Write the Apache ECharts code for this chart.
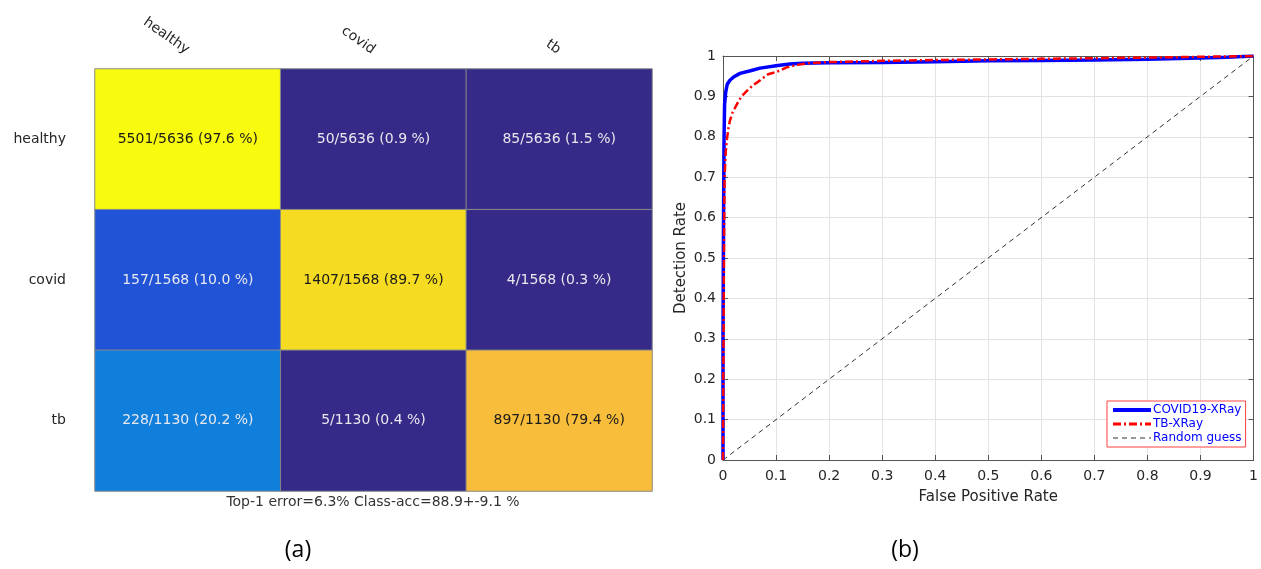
<!DOCTYPE html>
<html>
<head>
<meta charset="utf-8">
<script src="https://cdn.jsdelivr.net/npm/echarts@6/dist/echarts.min.js"></script>
<style>
html,body{margin:0;padding:0;background:#fff;}
#c{width:1261px;height:569px;}
</style>
</head>
<body>
<div id="c"></div>
<script>
// ---- Confusion matrix data (a) ----
const classes = ['healthy', 'covid', 'tb'];
const countsHealthy = [5501, 50, 85];
const countsCovid = [157, 1407, 4];
const countsTb = [228, 5, 897];
const summaryText = 'Top-1 error=6.3% Class-acc=88.9+-9.1 %';

// ---- ROC data (b) ----
const covidFpr = [0, 0, 0.001, 0.002, 0.003, 0.005, 0.008, 0.013, 0.02, 0.032, 0.05, 0.07, 0.1, 0.126, 0.15, 0.2, 0.3, 0.4, 0.5, 0.6, 0.7, 0.8, 0.9, 0.95, 1];
const covidTpr = [0, 0.3, 0.6, 0.8, 0.88, 0.91, 0.93, 0.94, 0.948, 0.957, 0.963, 0.97, 0.976, 0.98, 0.982, 0.983, 0.984, 0.986, 0.988, 0.989, 0.99, 0.992, 0.995, 0.997, 1];
const tbFpr = [0, 0.001, 0.002, 0.003, 0.005, 0.007, 0.01, 0.013, 0.018, 0.022, 0.03, 0.035, 0.047, 0.056, 0.066, 0.075, 0.085, 0.1, 0.12, 0.14, 0.16, 0.2, 0.3, 0.4, 0.6, 0.8, 1];
const tbTpr = [0, 0.3, 0.55, 0.7, 0.76, 0.79, 0.82, 0.84, 0.86, 0.87, 0.89, 0.9, 0.916, 0.927, 0.936, 0.945, 0.955, 0.96, 0.972, 0.978, 0.982, 0.985, 0.988, 0.99, 0.993, 0.996, 1];
const randomFpr = [0, 1];
const randomTpr = [0, 1];
const seriesNames = ['COVID19-XRay', 'TB-XRay', 'Random guess'];

// ---- build ----
const rows = [countsHealthy, countsCovid, countsTb];
const heatData = [];
rows.forEach((r, ri) => {
  const total = r.reduce((a, b) => a + b, 0);
  r.forEach((v, ci) => {
    const pct = v / total * 100;
    heatData.push({
      value: [ci, ri, pct, v, total],
      label: { color: pct > 50 ? '#1a1a1a' : '#e8e8ee' }
    });
  });
});
const zip = (a, b) => a.map((x, i) => [x, b[i]]);

const font = 'DejaVu Sans';
const axisCol = '#555555';
const txtCol = '#262626';
const lineStyles = [
  { color: '#0000ff', width: 3.5, type: 'solid' },
  { color: '#ff0000', width: 2.5, type: [8, 3, 2, 3] },
  { color: '#333333', width: 1, type: [5, 4] }
];

const chart = echarts.init(document.getElementById('c'), null, { renderer: 'canvas' });
chart.setOption({
  animation: false,
  backgroundColor: '#ffffff',
  textStyle: { fontFamily: font },
  grid: [
    { left: 95, top: 69, width: 557, height: 422 },
    { left: 723, top: 56, width: 532, height: 404 }
  ],
  visualMap: {
    show: false,
    seriesIndex: 0,
    dimension: 2,
    min: 0,
    max: 97.6,
    inRange: {
      color: ['#352a87', '#352a87', '#2152d6', '#1568dc', '#117cdc', '#0d8cd6', '#089bcf', '#0ca6c0', '#1eb0b0', '#38b79c',
              '#5bbd8a', '#7fbe78', '#a3bf66', '#c0bd58', '#dcbc4a', '#eebb43', '#f8ba3e', '#f7c733', '#f5d426', '#f6e71b', '#f9fb0e']
    }
  },
  legend: {
    left: 1107,
    top: 401,
    orient: 'vertical',
    padding: [3, 4, 3, 4],
    itemGap: 2,
    itemWidth: 38,
    itemHeight: 10,
    borderColor: '#ff4040',
    borderWidth: 1,
    backgroundColor: '#ffffff',
    itemStyle: { opacity: 0 },
    textStyle: { color: '#0000ff', fontSize: 12, fontFamily: font, padding: [0, 0, 0, -3] },
    data: seriesNames.map((n, i) => ({ name: n, lineStyle: { width: [4, 3, 1.2][i] } }))
  },
  xAxis: [
    {
      type: 'category', gridIndex: 0, data: classes, position: 'top',
      axisLine: { show: false }, axisTick: { show: false },
      axisLabel: { rotate: 35, fontSize: 14, color: txtCol, margin: 18, fontFamily: font }
    },
    {
      type: 'value', gridIndex: 1, min: 0, max: 1, interval: 0.1,
      name: 'False Positive Rate', nameLocation: 'middle', nameGap: 30,
      nameTextStyle: { fontSize: 15, color: txtCol, fontFamily: font },
      axisLine: { lineStyle: { color: axisCol, width: 1 } },
      axisTick: { inside: true, length: 5, lineStyle: { color: axisCol } },
      axisLabel: { fontSize: 14, color: txtCol, margin: 9, fontFamily: font },
      splitLine: { show: true, lineStyle: { color: '#e3e3e3' } }
    },
    {
      type: 'value', gridIndex: 1, min: 0, max: 1, interval: 0.1, position: 'top',
      axisLine: { show: true, onZero: false, lineStyle: { color: axisCol } },
      axisTick: { inside: true, length: 5, lineStyle: { color: axisCol } },
      axisLabel: { show: false }, splitLine: { show: false }
    }
  ],
  yAxis: [
    {
      type: 'category', gridIndex: 0, data: classes, inverse: true,
      axisLine: { show: false }, axisTick: { show: false },
      axisLabel: { fontSize: 14, color: txtCol, margin: 29, fontFamily: font }
    },
    {
      type: 'value', gridIndex: 1, min: 0, max: 1, interval: 0.1,
      name: 'Detection Rate', nameLocation: 'middle', nameGap: 34,
      nameTextStyle: { fontSize: 15, color: txtCol, fontFamily: font },
      axisLine: { show: true, lineStyle: { color: axisCol } },
      axisTick: { show: true, inside: true, length: 5, lineStyle: { color: axisCol } },
      axisLabel: { fontSize: 14, color: txtCol, margin: 7, fontFamily: font },
      splitLine: { show: true, lineStyle: { color: '#e3e3e3' } }
    },
    {
      type: 'value', gridIndex: 1, min: 0, max: 1, interval: 0.1, position: 'right',
      axisLine: { show: true, onZero: false, lineStyle: { color: axisCol } },
      axisTick: { show: true, inside: true, length: 5, lineStyle: { color: axisCol } },
      axisLabel: { show: false }, splitLine: { show: false }
    }
  ],
  series: [
    {
      type: 'heatmap', xAxisIndex: 0, yAxisIndex: 0,
      data: heatData,
      itemStyle: { borderColor: '#8a8a8a', borderWidth: 1 },
      label: {
        show: true, fontSize: 14, fontFamily: font,
        formatter: p => p.value[3] + '/' + p.value[4] + ' (' + p.value[2].toFixed(1) + ' %)'
      },
      emphasis: { disabled: true }
    },
    {
      name: seriesNames[2], type: 'line', xAxisIndex: 1, yAxisIndex: 1,
      data: zip(randomFpr, randomTpr), symbol: 'none', z: 2,
      lineStyle: lineStyles[2],
      itemStyle: { color: lineStyles[2].color }
    },
    {
      name: seriesNames[0], type: 'line', xAxisIndex: 1, yAxisIndex: 1,
      data: zip(covidFpr, covidTpr), symbol: 'none', z: 3,
      lineStyle: lineStyles[0],
      itemStyle: { color: lineStyles[0].color }
    },
    {
      name: seriesNames[1], type: 'line', xAxisIndex: 1, yAxisIndex: 1,
      data: zip(tbFpr, tbTpr), symbol: 'none', z: 4,
      lineStyle: lineStyles[1],
      itemStyle: { color: lineStyles[1].color }
    }
  ],
  graphic: [
    { type: 'text', x: 373, y: 502, style: { text: summaryText, font: '14px "DejaVu Sans"', fill: '#333333', align: 'center', verticalAlign: 'middle' } },
    { type: 'text', x: 298, y: 550, style: { text: '(a)', font: '23px "Open Sans"', fill: '#000000', align: 'center', verticalAlign: 'middle' } },
    { type: 'text', x: 905, y: 550, style: { text: '(b)', font: '23px "Open Sans"', fill: '#000000', align: 'center', verticalAlign: 'middle' } }
  ]
});
</script>
</body>
</html>
